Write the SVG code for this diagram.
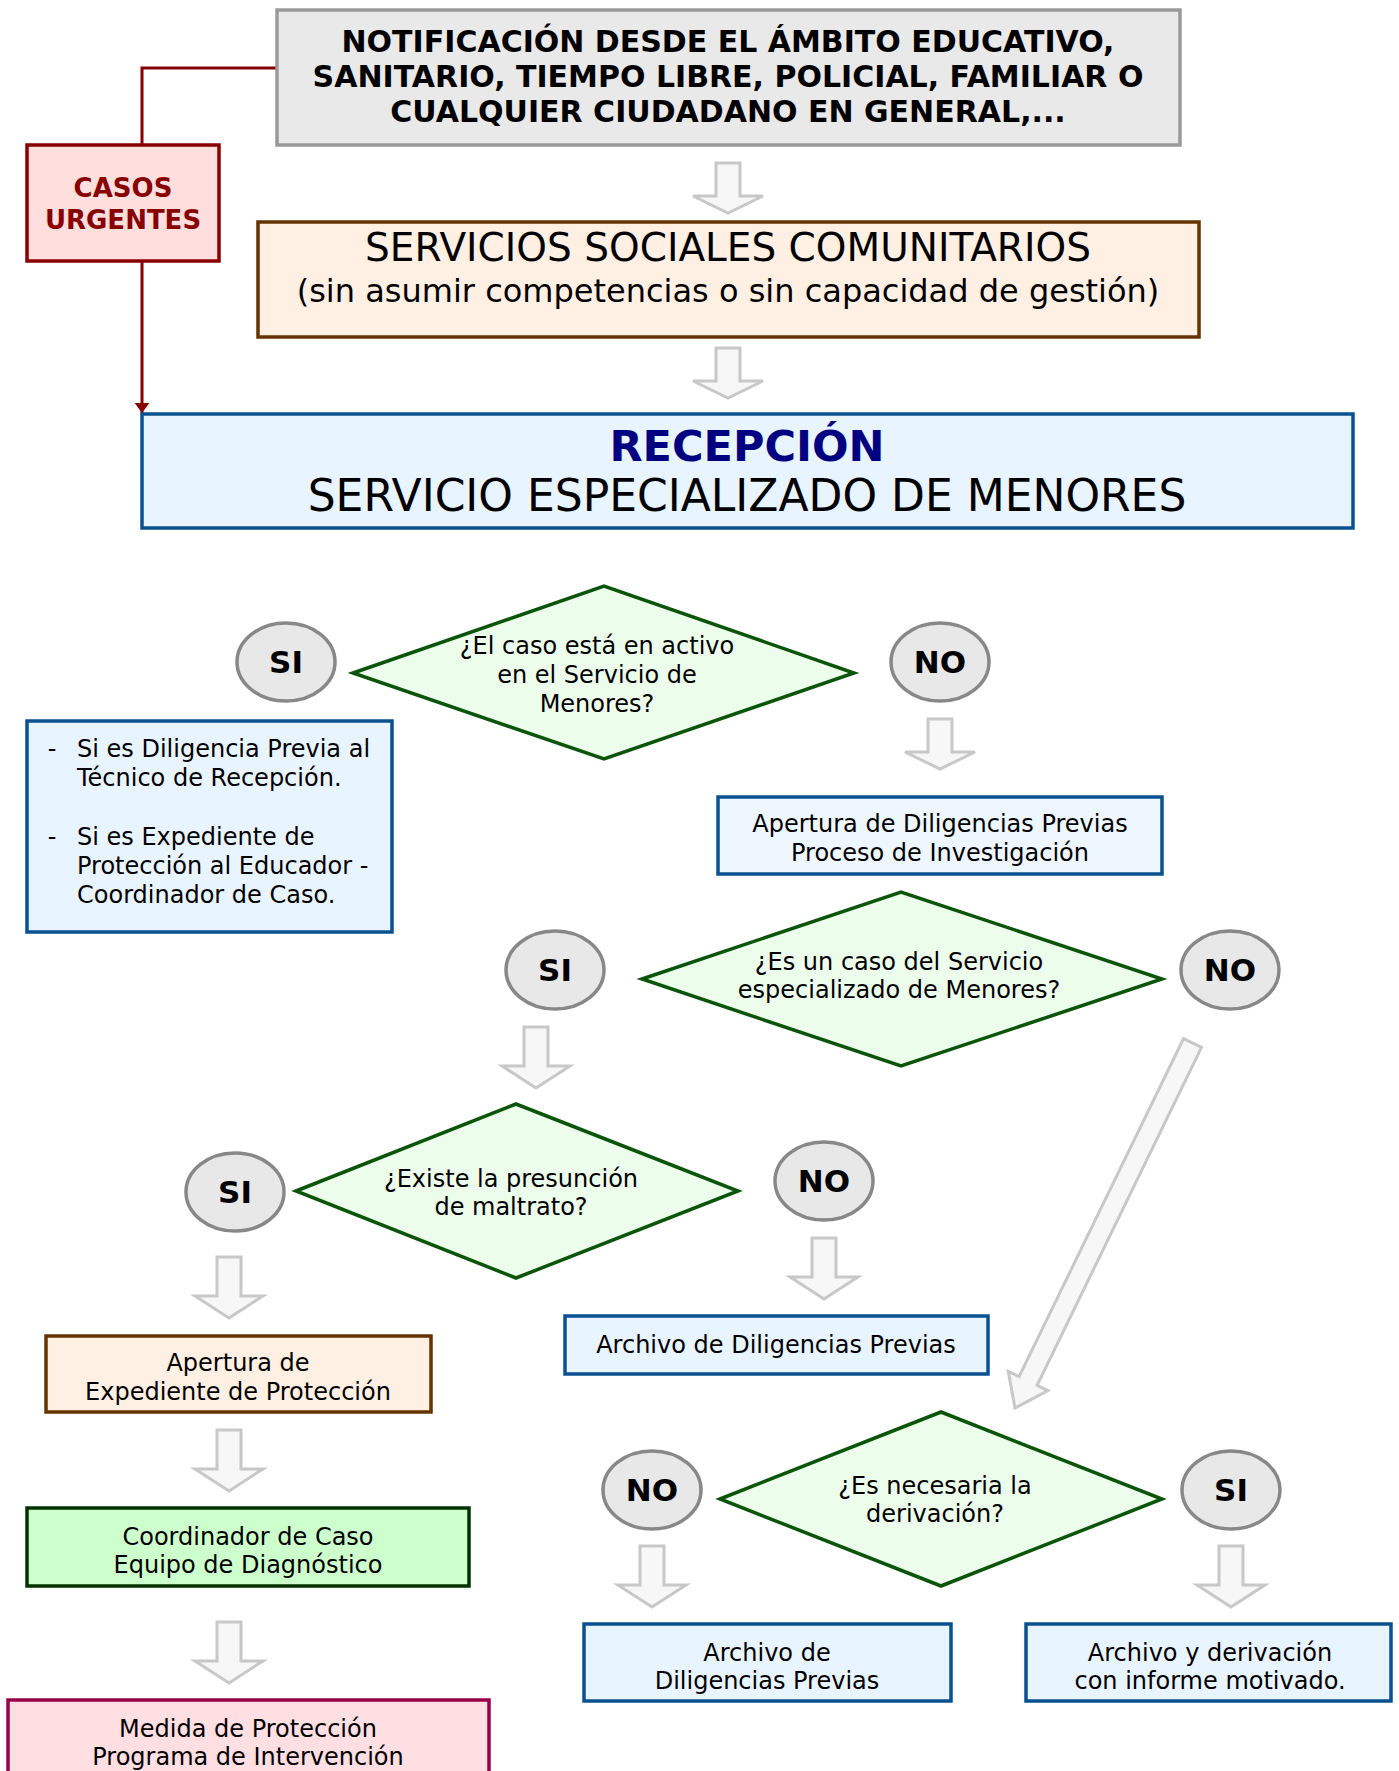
<svg xmlns="http://www.w3.org/2000/svg" width="1399" height="1771" viewBox="0 0 1399 1771">
<style>
text{font-family:"DejaVu Sans",Verdana,"Liberation Sans",sans-serif;fill:#000;text-anchor:middle}
.box{stroke-width:3.5}
.gray{fill:#e9e9e9;stroke:#9a9a9a}
.urg{fill:#ffdede;stroke:#880000}
.brown{fill:#fff0e3;stroke:#663300}
.blue{fill:#e8f4ff;stroke:#0a5191}
.dia{fill:#ecfdec;stroke:#0b550b;stroke-width:3.5}
.green{fill:#ccffcc;stroke:#003300}
.pink{fill:#ffdfe2;stroke:#99004a}
.circ{fill:#e8e8e8;stroke:#888888;stroke-width:3.5}
.blk{fill:#f7f7f7;stroke:#c8c8c8;stroke-width:3}
.t{font-size:24px}
.yn{font-size:31px;font-weight:bold}
.red{fill:none;stroke:#880000;stroke-width:3}
</style>
<defs>
<path id="arS" d="M -12,0 H 12 V 33 H 35 L 0 50 L -35 33 H -12 Z"/>
<path id="arL" d="M -12,0 H 12 V 39 H 34 L 0 61 L -34 39 H -12 Z"/>
<marker id="redhead" markerWidth="4" markerHeight="6" refX="3.4" refY="2.5" orient="auto" markerUnits="strokeWidth">
<path d="M0,0 L3.4,2.5 L0,5 Z" fill="#880000"/>
</marker>
</defs>

<g id="connectors">
<path class="red" d="M 277,68 H 142 V 144"/>
<path class="red" d="M 142,261 V 413" marker-end="url(#redhead)"/>
<use href="#arS" class="blk" x="728" y="163"/>
<use href="#arS" class="blk" x="728" y="348"/>
<use href="#arS" class="blk" x="940" y="719"/>
<use href="#arL" class="blk" x="536" y="1027"/>
<use href="#arL" class="blk" x="229" y="1257"/>
<use href="#arL" class="blk" x="824" y="1238"/>
<use href="#arL" class="blk" x="229" y="1430"/>
<use href="#arL" class="blk" x="229" y="1622"/>
<use href="#arL" class="blk" x="652" y="1546"/>
<use href="#arL" class="blk" x="1231" y="1546"/>
<polygon class="blk" points="1201.5,1047.4 1037.1,1385.4 1047.9,1390.6 1015,1408 1008.3,1371.4 1019.1,1376.6 1183.5,1038.6"/>
</g>

<g id="notificacion">
<rect class="box gray" x="277" y="10" width="903" height="135"/>
<text x="728" y="52" style="font-size:30px;font-weight:bold">NOTIFICACIÓN DESDE EL ÁMBITO EDUCATIVO,</text>
<text x="728" y="87" style="font-size:30px;font-weight:bold">SANITARIO, TIEMPO LIBRE, POLICIAL, FAMILIAR O</text>
<text x="728" y="122" style="font-size:30px;font-weight:bold">CUALQUIER CIUDADANO EN GENERAL,...</text>
</g>

<g id="casos-urgentes">
<rect class="box urg" x="27" y="145" width="192" height="116"/>
<text x="123" y="197" style="font-size:26px;font-weight:bold;fill:#880000">CASOS</text>
<text x="123" y="229" style="font-size:26px;font-weight:bold;fill:#880000">URGENTES</text>
</g>

<g id="servicios-sociales">
<rect class="box brown" x="258" y="222" width="941" height="115"/>
<text x="728" y="261" style="font-size:39px">SERVICIOS SOCIALES COMUNITARIOS</text>
<text x="728" y="302" style="font-size:32px">(sin asumir competencias o sin capacidad de gestión)</text>
</g>

<g id="recepcion">
<rect class="box blue" x="142" y="414" width="1211" height="114"/>
<text x="747" y="461" style="font-size:43px;font-weight:bold;fill:#000080">RECEPCIÓN</text>
<text x="747" y="511" style="font-size:44px">SERVICIO ESPECIALIZADO DE MENORES</text>
</g>

<g id="q-activo">
<polygon class="dia" points="353,673 604,586 854,673 604,759"/>
<text class="t" x="597" y="654">¿El caso está en activo</text>
<text class="t" x="597" y="683">en el Servicio de</text>
<text class="t" x="597" y="712">Menores?</text>
</g>

<g id="si-1">
<ellipse class="circ" cx="286" cy="662" rx="49" ry="39"/>
<text class="yn" x="286" y="673">SI</text>
</g>

<g id="no-1">
<ellipse class="circ" cx="940" cy="662" rx="49" ry="39"/>
<text class="yn" x="940" y="673">NO</text>
</g>

<g id="info-activo">
<rect class="box blue" x="27" y="721" width="365" height="211"/>
<text class="t" x="52" y="757">-</text>
<text class="t" x="77" y="757" style="text-anchor:start">Si es Diligencia Previa al</text>
<text class="t" x="77" y="786" style="text-anchor:start">Técnico de Recepción.</text>
<text class="t" x="52" y="845">-</text>
<text class="t" x="77" y="845" style="text-anchor:start">Si es Expediente de</text>
<text class="t" x="77" y="874" style="text-anchor:start">Protección al Educador -</text>
<text class="t" x="77" y="903" style="text-anchor:start">Coordinador de Caso.</text>
</g>

<g id="apertura-dp">
<rect class="box blue" x="718" y="797" width="444" height="77" style="fill:#eef6ff"/>
<text class="t" x="940" y="832">Apertura de Diligencias Previas</text>
<text class="t" x="940" y="861">Proceso de Investigación</text>
</g>

<g id="q-servicio">
<polygon class="dia" points="642,979 901,892 1162,979 901,1066"/>
<text class="t" x="899" y="970">¿Es un caso del Servicio</text>
<text class="t" x="899" y="998">especializado de Menores?</text>
</g>

<g id="si-2">
<ellipse class="circ" cx="555" cy="970" rx="49" ry="39"/>
<text class="yn" x="555" y="981">SI</text>
</g>

<g id="no-2">
<ellipse class="circ" cx="1230" cy="970" rx="49" ry="39"/>
<text class="yn" x="1230" y="981">NO</text>
</g>

<g id="q-maltrato">
<polygon class="dia" points="296,1191 516,1104 738,1191 516,1278"/>
<text class="t" x="511" y="1187">¿Existe la presunción</text>
<text class="t" x="511" y="1215">de maltrato?</text>
</g>

<g id="si-3">
<ellipse class="circ" cx="235" cy="1192" rx="49" ry="39"/>
<text class="yn" x="235" y="1203">SI</text>
</g>

<g id="no-3">
<ellipse class="circ" cx="824" cy="1181" rx="49" ry="39"/>
<text class="yn" x="824" y="1192">NO</text>
</g>

<g id="archivo-dp">
<rect class="box blue" x="565" y="1316" width="423" height="58"/>
<text class="t" x="776" y="1353">Archivo de Diligencias Previas</text>
</g>

<g id="apertura-expediente">
<rect class="box brown" x="46" y="1336" width="385" height="76"/>
<text class="t" x="238" y="1371">Apertura de</text>
<text class="t" x="238" y="1400">Expediente de Protección</text>
</g>

<g id="coordinador">
<rect class="box green" x="27" y="1508" width="442" height="78"/>
<text class="t" x="248" y="1545">Coordinador de Caso</text>
<text class="t" x="248" y="1573">Equipo de Diagnóstico</text>
</g>

<g id="medida">
<rect class="box pink" x="8" y="1700" width="481" height="100"/>
<text class="t" x="248" y="1737">Medida de Protección</text>
<text class="t" x="248" y="1765">Programa de Intervención</text>
</g>

<g id="q-derivacion">
<polygon class="dia" points="720,1499 941,1412 1162,1499 941,1586"/>
<text class="t" x="935" y="1494">¿Es necesaria la</text>
<text class="t" x="935" y="1522">derivación?</text>
</g>

<g id="no-4">
<ellipse class="circ" cx="652" cy="1490" rx="49" ry="39"/>
<text class="yn" x="652" y="1501">NO</text>
</g>

<g id="si-4">
<ellipse class="circ" cx="1231" cy="1490" rx="49" ry="39"/>
<text class="yn" x="1231" y="1501">SI</text>
</g>

<g id="archivo-dp-2">
<rect class="box blue" x="584" y="1624" width="367" height="77"/>
<text class="t" x="767" y="1661">Archivo de</text>
<text class="t" x="767" y="1689">Diligencias Previas</text>
</g>

<g id="archivo-derivacion">
<rect class="box blue" x="1026" y="1624" width="365" height="77"/>
<text class="t" x="1210" y="1661">Archivo y derivación</text>
<text class="t" x="1210" y="1689">con informe motivado.</text>
</g>
</svg>
